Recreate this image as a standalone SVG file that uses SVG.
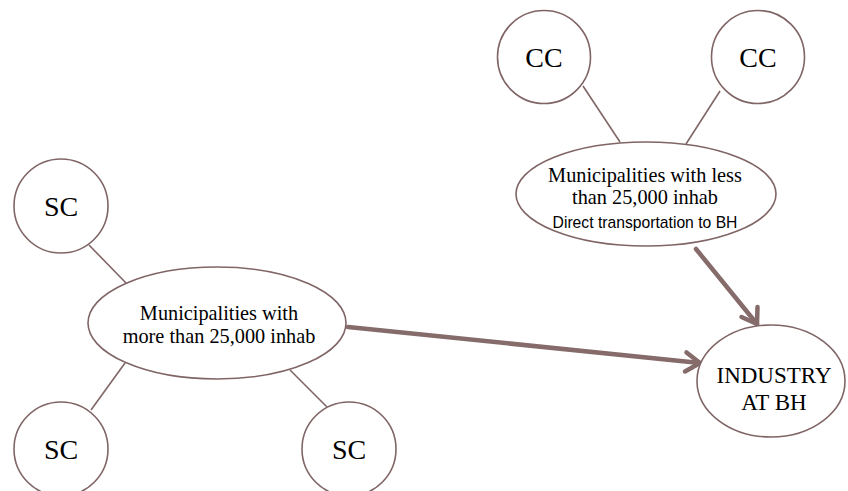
<svg xmlns="http://www.w3.org/2000/svg" width="848" height="491" viewBox="0 0 848 491">
<defs>
<style>
.node{fill:#fff;stroke:#806566;stroke-width:1.6}
.link{stroke:#806566;stroke-width:1.6;fill:none}
.flow{stroke:#866b6b;stroke-width:4.5;fill:none;stroke-linecap:round}
.head{stroke:#866b6b;stroke-width:4.5;fill:none;stroke-linecap:round;stroke-linejoin:round}
.t{font-family:"Liberation Serif","Times New Roman",serif;fill:#000;text-anchor:middle}
.big{font-size:28px}
.mid{font-size:20.3px}
.ind{font-size:23px}
.s{font-family:"Liberation Sans",Arial,sans-serif;font-size:15.7px;fill:#000;text-anchor:middle}
</style>
</defs>
<rect width="848" height="491" fill="#fff"/>
<g id="connectors">
<line class="link" x1="583" y1="86" x2="620" y2="142"/>
<line class="link" x1="720" y1="91" x2="686" y2="144"/>
<line class="link" x1="89" y1="245" x2="126" y2="283"/>
<line class="link" x1="125" y1="363" x2="91" y2="410"/>
<line class="link" x1="290" y1="370" x2="327" y2="407"/>
<line class="flow" x1="348" y1="327" x2="700" y2="363"/>
<polyline class="head" points="686.5,352.5 700,363 685,371.5"/>
<line class="flow" x1="696" y1="249" x2="757" y2="324"/>
<polyline class="head" points="757.5,307 757,324 741.5,317"/>
</g>
<g id="cc1"><circle class="node" cx="544" cy="57" r="46.5"/><text class="t big" x="544" y="67">CC</text></g>
<g id="cc2"><circle class="node" cx="758" cy="57" r="46.5"/><text class="t big" x="758" y="67">CC</text></g>
<g id="small"><ellipse class="node" cx="646" cy="194" rx="130" ry="52"/>
<text class="t mid" x="645" y="182">Municipalities with less</text>
<text class="t mid" x="645" y="204">than 25,000 inhab</text>
<text class="s" x="645" y="228">Direct transportation to BH</text></g>
<g id="sc1"><circle class="node" cx="61" cy="206" r="47"/><text class="t big" x="61" y="216">SC</text></g>
<g id="large"><ellipse class="node" cx="217" cy="323" rx="129" ry="56"/>
<text class="t mid" x="219" y="320">Municipalities with</text>
<text class="t mid" x="219" y="343">more than 25,000 inhab</text></g>
<g id="sc2"><circle class="node" cx="61" cy="449" r="47"/><text class="t big" x="61" y="459">SC</text></g>
<g id="sc3"><circle class="node" cx="349" cy="449" r="47"/><text class="t big" x="349" y="459">SC</text></g>
<g id="industry"><ellipse class="node" cx="771" cy="381" rx="74" ry="56"/>
<text class="t ind" x="774" y="383">INDUSTRY</text>
<text class="t ind" x="774" y="410">AT BH</text></g>
</svg>
